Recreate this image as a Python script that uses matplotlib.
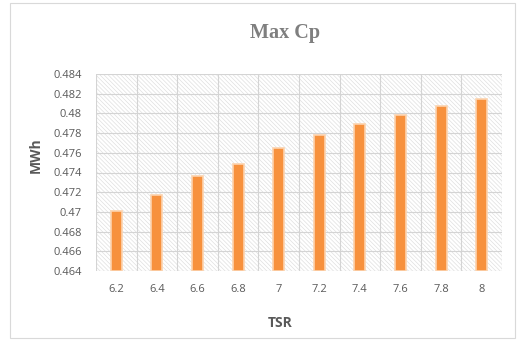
import matplotlib
matplotlib.use('Agg')
import matplotlib.pyplot as plt
from matplotlib.patches import Rectangle

# data
tsr = ['6.2', '6.4', '6.6', '6.8', '7', '7.2', '7.4', '7.6', '7.8', '8']
mwh = [0.4701, 0.4717, 0.4736, 0.4749, 0.4765, 0.4778, 0.4789, 0.4798, 0.4808, 0.4815]
yticks = [0.464, 0.466, 0.468, 0.47, 0.472, 0.474, 0.476, 0.478, 0.48, 0.482, 0.484]

plt.rcParams['font.family'] = ['Open Sans', 'DejaVu Sans']
plt.rcParams['hatch.color'] = '#e0e0e0'
plt.rcParams['hatch.linewidth'] = 0.5

fig = plt.figure(figsize=(5.25, 3.4), dpi=100)
fig.patches.append(Rectangle((10 / 525, 2 / 340), 505 / 525, 335 / 340,
                             transform=fig.transFigure, fill=False,
                             edgecolor='#d9d9d9', linewidth=0.8))

ax = fig.add_axes([96 / 525, 69 / 340, 406 / 525, 197 / 340])
ax.patch.set_facecolor('white')
ax.patch.set_hatch('\\' * 8)
ax.patch.set_edgecolor('#e0e0e0')

x = list(range(len(tsr)))
ax.bar(x, [v - yticks[0] for v in mwh], bottom=yticks[0], width=0.27,
       color='#f7913d', edgecolor='#fcd3ae', linewidth=1.2, zorder=3)

ax.set_xlim(-0.5, len(tsr) - 0.5)
ax.set_ylim(yticks[0], yticks[-1])
ax.set_yticks(yticks)
ax.set_yticklabels(['%g' % t for t in yticks])
ax.set_xticks(x)
ax.set_xticklabels(tsr)
ax.set_xticks([i - 0.5 for i in range(len(tsr) + 1)], minor=True)

ax.grid(axis='y', which='major', color='#d4d4d4', linewidth=0.8, zorder=1)
ax.grid(axis='x', which='minor', color='#d4d4d4', linewidth=0.8, zorder=1)
ax.set_axisbelow(True)
for s in ax.spines.values():
    s.set_visible(False)
ax.tick_params(which='both', length=0)
ax.tick_params(axis='y', pad=10, labelsize=8, labelcolor='#595959')
ax.tick_params(axis='x', pad=9, labelsize=8, labelcolor='#595959')

fig.text(285 / 525, 1 - 33 / 340, 'Max Cp', ha='center', va='center',
         fontsize=14.5, fontweight='bold', color='#7f7f7f',
         family=['Liberation Serif', 'DejaVu Serif'])
fig.text(280 / 525, 1 - 323 / 340, 'TSR', ha='center', va='center',
         fontsize=10, fontweight='bold', color='#595959')
fig.text(36 / 525, 1 - 155 / 340, 'MWh', ha='center', va='center',
         rotation=90, fontsize=10, fontweight='bold', color='#595959')

fig.savefig('out.png', dpi=100)
